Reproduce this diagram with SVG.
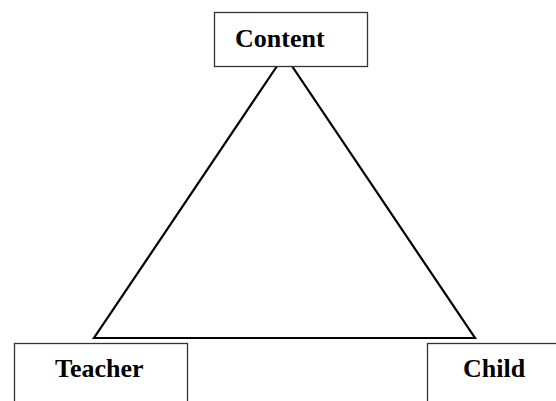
<svg xmlns="http://www.w3.org/2000/svg" width="556" height="401" viewBox="0 0 556 401">
<style>
.box{fill:#fff;stroke:#333;stroke-width:1.3}
.lbl{font-family:"Liberation Serif","Times New Roman",serif;font-weight:bold;font-size:26px;fill:#000}
.edge{fill:none;stroke:#000;stroke-width:2.2;stroke-linejoin:miter}
</style>
<rect width="556" height="401" fill="#fff"/>
<g id="connectors">
<polygon class="edge" points="284.5,55 94,338 475,338"/>
</g>
<g id="content">
<rect class="box" x="214.5" y="12.5" width="153" height="54"/>
<text class="lbl" x="235" y="47">Content</text>
</g>
<g id="teacher">
<rect class="box" x="14.5" y="343.5" width="173" height="70"/>
<text class="lbl" x="55" y="377">Teacher</text>
</g>
<g id="child">
<rect class="box" x="427.5" y="343.5" width="150" height="70"/>
<text class="lbl" x="463" y="377">Child</text>
</g>
</svg>
